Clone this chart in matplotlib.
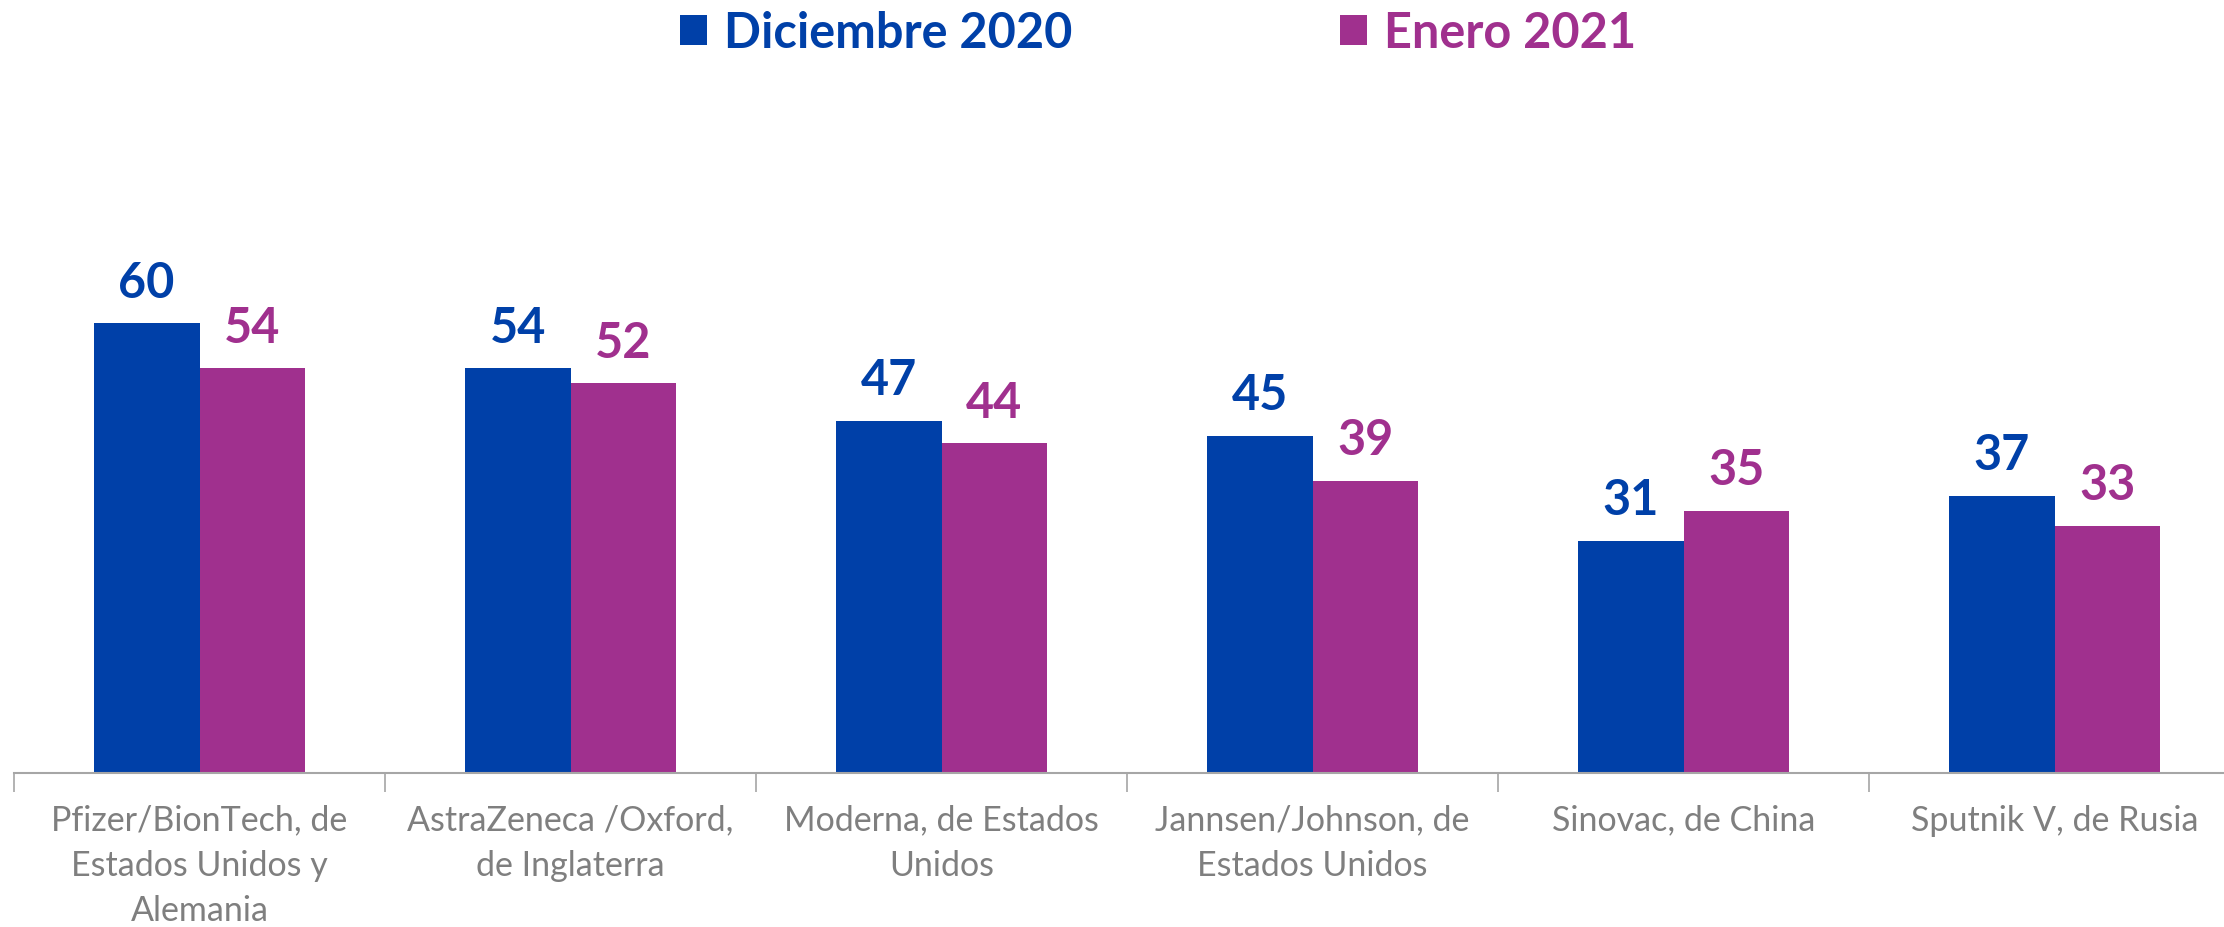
import numpy as np
import matplotlib
matplotlib.use("Agg")
import matplotlib.pyplot as plt

plt.rcParams["font.family"] = ["Lato", "DejaVu Sans"]

categories = [
    "Pfizer/BionTech, de\nEstados Unidos y\nAlemania",
    "AstraZeneca /Oxford,\nde Inglaterra",
    "Moderna, de Estados\nUnidos",
    "Jannsen/Johnson, de\nEstados Unidos",
    "Sinovac, de China",
    "Sputnik V, de Rusia",
]
dic_2020 = [60, 54, 47, 45, 31, 37]
ene_2021 = [54, 52, 44, 39, 35, 33]
series_names = ["Diciembre 2020", "Enero 2021"]

BLUE = "#0040A8"
MAGENTA = "#A0308E"
GRAY = "#7F7F7F"

W, H = 2224, 928
fig = plt.figure(figsize=(W / 100, H / 100), dpi=100)

# plot area runs a little past the right edge, like the cropped original
left = 14 / W
bottom = 1 - 774 / H
width = 6 * 371 / W
height = 750 / H
ax = fig.add_axes([left, bottom, width, height])

x = np.arange(len(categories))
bw = 0.285
b1 = ax.bar(x - bw / 2, dic_2020, bw, color=BLUE, label=series_names[0])
b2 = ax.bar(x + bw / 2, ene_2021, bw, color=MAGENTA, label=series_names[1])

for bars, vals, col in [(b1, dic_2020, BLUE), (b2, ene_2021, MAGENTA)]:
    for r, v in zip(bars, vals):
        ax.annotate(f"{v}", (r.get_x() + r.get_width() / 2, v),
                    xytext=(0, 13), textcoords="offset points",
                    ha="center", va="bottom", fontsize=35, fontweight="bold", color=col)

ax.set_xlim(-0.5, len(categories) - 0.5)
ax.set_ylim(0, 100)

for s in ["top", "right", "left"]:
    ax.spines[s].set_visible(False)
ax.spines["bottom"].set_color("#A6A6A6")
ax.spines["bottom"].set_linewidth(1.5)
ax.set_yticks([])

ax.set_xticks(x)
ax.set_xticklabels(categories, fontsize=24.5, color=GRAY, linespacing=1.5)
ax.tick_params(axis="x", which="major", length=0, pad=22)
ax.set_xticks(np.arange(len(categories) + 1) - 0.5, minor=True)
ax.tick_params(axis="x", which="minor", length=14, width=1.2, color="#A6A6A6")

fig.legend(loc="upper center", bbox_to_anchor=(1158 / W, 1.035), ncol=2, frameon=False,
           handlelength=0.55, handleheight=0.55, handletextpad=0.35,
           columnspacing=5.5, prop={"weight": "bold", "size": 35},
           labelcolor=[BLUE, MAGENTA])

fig.savefig("out.png", dpi=100)
plt.close(fig)
